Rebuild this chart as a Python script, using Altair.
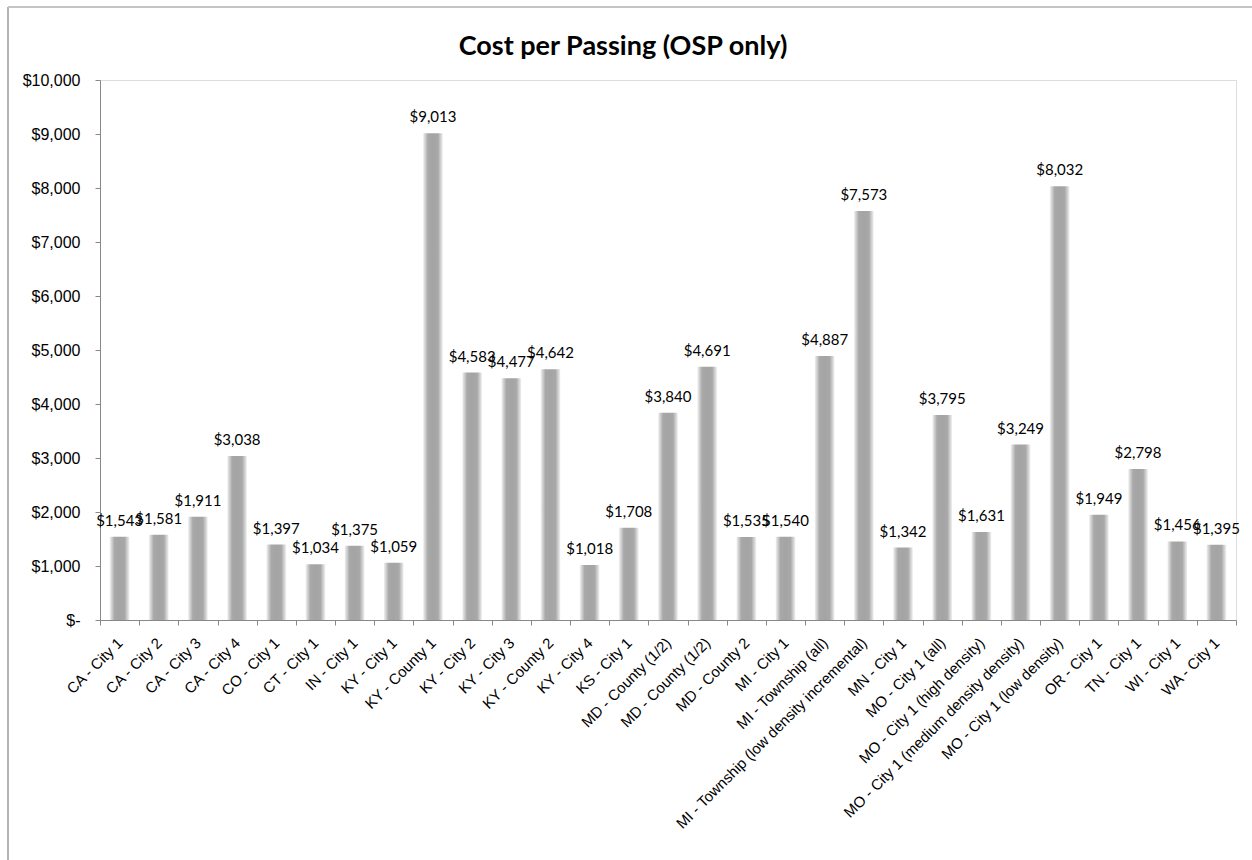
import json

import altair as alt
import pandas as pd

# Cost per passing for outside-plant (OSP) builds, by site
sites = [
    "CA - City 1", "CA - City 2", "CA - City 3", "CA - City 4", "CO - City 1",
    "CT - City 1", "IN - City 1", "KY - City 1", "KY - County 1", "KY - City 2",
    "KY - City 3", "KY - County 2", "KY - City 4", "KS - City 1",
    "MD - County (1/2)", "MD - County (1/2)", "MD - County 2", "MI - City 1",
    "MI - Township (all)", "MI - Township (low density incremental)",
    "MN - City 1", "MO - City 1 (all)", "MO - City 1 (high density)",
    "MO - City 1 (medium density density)", "MO - City 1 (low density)",
    "OR - City 1", "TN - City 1", "WI - City 1", "WA - City 1",
]
cost = [
    1543, 1581, 1911, 3038, 1397,
    1034, 1375, 1059, 9013, 4583,
    4477, 4642, 1018, 1708,
    3840, 4691, 1535, 1540,
    4887, 7573,
    1342, 3795, 1631,
    3249, 8032,
    1949, 2798, 1456, 1395,
]
y_ticks = list(range(0, 10001, 1000))
chart_title = "Cost per Passing (OSP only)"

df = pd.DataFrame({"pos": list(range(len(sites))), "site": sites, "cost": cost})
single = pd.DataFrame({"k": [0]})

FONT = "Lato"
AXIS_GREY = "#868686"
PLOT_W, PLOT_H = 1136, 540

site_lookup = json.dumps(sites)

x_enc = alt.X(
    "pos:O",
    sort=None,
    title=None,
    scale=alt.Scale(paddingInner=0, paddingOuter=0),
    axis=alt.Axis(
        labelExpr=f"{site_lookup}[datum.value]",
        labelAngle=-45,
        labelAlign="right",
        labelBaseline="middle",
        labelFontSize=15,
        labelPadding=15,
        labelLimit=500,
        tickBand="extent",
        labelOverlap=False,
    ),
)
y_enc = alt.Y(
    "cost:Q",
    title=None,
    scale=alt.Scale(domain=[0, 10000], nice=False),
    axis=alt.Axis(
        values=y_ticks,
        grid=False,
        labelExpr="datum.value == 0 ? '$-' : '$' + format(datum.value, ',')",
        labelFontSize=16,
        labelPadding=15,
    ),
)

bar_fill = alt.Gradient(
    gradient="linear",
    x1=0, x2=1, y1=0, y2=0,
    stops=[
        alt.GradientStop(color="#F0F0F0", offset=0),
        alt.GradientStop(color="#A8A8A8", offset=0.24),
        alt.GradientStop(color="#A4A4A4", offset=0.5),
        alt.GradientStop(color="#A8A8A8", offset=0.76),
        alt.GradientStop(color="#F0F0F0", offset=1),
    ],
)

bars = alt.Chart(df).mark_bar(
    color=bar_fill, width=alt.RelativeBandSize(0.5)
).encode(x=x_enc, y=y_enc)

labels = alt.Chart(df).mark_text(
    baseline="bottom", dy=-8, fontSize=15, font=FONT, color="black"
).encode(
    x=alt.X("pos:O", sort=None),
    y=alt.Y("cost:Q"),
    text=alt.Text("cost:Q", format="$,"),
)

# chart title, drawn above the plot area
title = alt.Chart(single).mark_text(
    font=FONT, fontSize=27, fontWeight="bold", color="black",
    align="center", baseline="alphabetic",
).encode(x=alt.value(523), y=alt.value(-25), text=alt.value(chart_title))

# outer chart frame (left and top edges)
frame_left = alt.Chart(single).mark_rule(color="#9A9A9A", strokeWidth=1.5).encode(
    x=alt.value(-92), y=alt.value(-73), y2=alt.value(800)
)
frame_top = alt.Chart(single).mark_rule(color="#C4C4C4", strokeWidth=2).encode(
    x=alt.value(-92), x2=alt.value(1200), y=alt.value(-73)
)

chart = (
    alt.layer(frame_left, frame_top, bars, labels, title)
    .properties(
        width=PLOT_W,
        height=PLOT_H,
        autosize=alt.AutoSizeParams(type="none"),
        padding={"left": 100, "top": 80, "right": 16, "bottom": 240},
    )
    .configure_view(stroke=None)
    .configure_axis(
        labelFont=FONT,
        labelColor="black",
        domainColor=AXIS_GREY,
        tickColor=AXIS_GREY,
        tickSize=5,
        domainWidth=1.2,
    )
    .configure(background="white")
)

chart.save("out.html", embed_options={"renderer": "svg", "actions": False})
